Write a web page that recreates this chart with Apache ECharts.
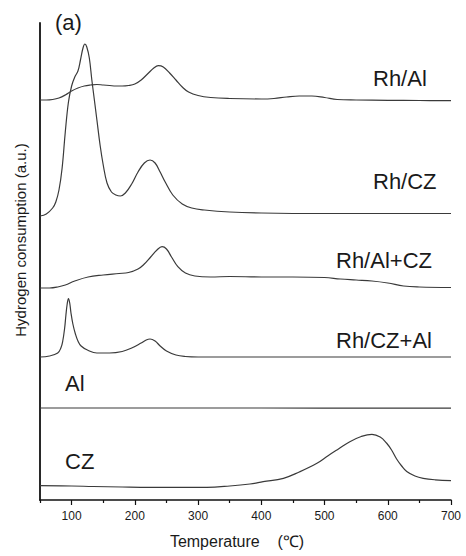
<!DOCTYPE html>
<html><head><meta charset="utf-8">
<script src="https://cdn.jsdelivr.net/npm/echarts@6/dist/echarts.min.js"></script>
<style>html,body{margin:0;padding:0;background:#fff}#c{width:466px;height:556px}</style>
</head><body><div id="c"></div>
<script>
// Tick values
const xTickLabels = [100, 200, 300, 400, 500, 600, 700];
const xMinorTicks = [50, 150, 250, 350, 450, 550, 650];
const seriesNames = ['Rh/Al', 'Rh/CZ', 'Rh/Al+CZ', 'Rh/CZ+Al', 'Al', 'CZ'];
const xTitle = 'Temperature    (\u2103)';
const yTitle = 'Hydrogen consumption (a.u.)';
const panelTag = '(a)';

// [temperature (°C), H2 signal (a.u., vertically offset traces)]
const rhAl = [[50,400],[60,400],[70,400.5],[80,402],[90,405],[100,409],[110,412],[120,414],[130,415],[140,415.5],[150,415],[160,414.5],[170,414],[180,414],[190,414.5],[200,416],[210,420],[220,426],[230,432],[237,434.3],[245,433],[255,427],[265,420],[275,413],[285,408],[300,404.5],[320,402.5],[350,401.5],[400,401],[420,401.5],[440,403],[460,404],[480,404],[500,402.5],[520,400.5],[550,400],[600,399.7],[650,399.5],[700,399.3]];
const rhCZ = [[50,284],[60,286],[70,292],[75,298],[80,310],[85,332],[90,368],[95,398],[100,414],[105,423],[110,429],[114,440],[118,452],[121,456],[124,453],[128,442],[132,420],[136,400],[140,380],[145,355],[150,335],[156,317],[163,308],[170,305],[177,304],[185,307],[195,316],[205,328],[215,337],[224,340],[232,337],[240,328],[248,318],[260,305],[275,296],[290,292],[310,290],[350,288],[400,287],[500,286.5],[600,286.5],[700,286.5]];
const rhAlCZ = [[50,212],[65,212],[78,213],[90,215],[105,219],[126,223],[150,225],[175,226.5],[190,227.5],[205,231],[215,236],[225,243],[235,250],[243,253.3],[250,251],[258,243],[268,233.3],[280,227],[295,224],[320,223],[350,223.5],[400,223],[450,223],[500,222.5],[525,221],[550,220],[575,219],[600,217],[625,214],[650,213],[700,212.5]];
const rhCZAl = [[50,143],[65,144],[78,147],[83,152],[86,159],[89,172],[91,185],[93,196],[95,201.5],[97,197],[99,187],[102,176],[106,166],[110,159],[115,154],[125,150],[140,147],[160,147],[180,148.5],[195,152],[210,157],[218,160],[224,161],[232,159],[240,154],[250,149],[265,145],[280,143.5],[300,143],[400,143],[500,143],[600,143],[700,143]];
const al = [[50,92],[200,92],[400,92],[700,91.8]];
const cz = [[50,14.3],[100,14],[134,13.5],[180,13],[224,12.7],[314,12.7],[350,14],[382,16],[403,18.3],[435,21.7],[460,28],[488,36.7],[505,44],[522,51],[540,58.3],[558,63.5],[575,65.7],[588,63],[598,57],[606,50],[614,41],[622,34],[630,28.5],[643,24],[656,21.7],[675,20.2],[700,19.3]];
const allData = [rhAl, rhCZ, rhAlCZ, rhCZAl, al, cz];

const chart = echarts.init(document.getElementById('c'), null, {renderer: 'svg'});
const font = 'Liberation Sans, Arial, sans-serif';
const txt = (text, x, y, size, extra) => Object.assign({
  type: 'text', x: x, y: y, silent: true,
  style: {text: text, fill: '#1a1a1a', font: size + 'px ' + font, align: 'left', verticalAlign: 'middle'}
}, extra || {});

chart.setOption({
  animation: false,
  backgroundColor: '#fff',
  grid: {left: 40, right: 15, top: 23, bottom: 56},
  xAxis: [{
    type: 'value', min: 50, max: 700,
    splitLine: {show: false},
    axisLine: {lineStyle: {color: '#111', width: 1.5}},
    axisTick: {show: true, inside: false, length: 5, lineStyle: {color: '#111', width: 1.2}, customValues: xTickLabels},
    axisLabel: {customValues: xTickLabels, color: '#1a1a1a', fontSize: 12, fontFamily: font, margin: 10},
    name: xTitle, nameLocation: 'middle', nameGap: 33,
    nameTextStyle: {color: '#1a1a1a', fontSize: 16, fontFamily: font, padding: [0, 17, 0, 0]}
  }, {
    type: 'value', min: 50, max: 700, position: 'bottom',
    splitLine: {show: false},
    axisLine: {show: false},
    axisTick: {show: true, length: 3, lineStyle: {color: '#111', width: 1.2}, customValues: xMinorTicks},
    axisLabel: {show: false}
  }],
  yAxis: {
    type: 'value', min: 0, max: 477,
    splitLine: {show: false},
    axisLine: {show: true, lineStyle: {color: '#111', width: 1.8}},
    axisTick: {show: false},
    axisLabel: {show: false}
  },
  series: allData.map((d, i) => ({
    name: seriesNames[i], type: 'line', data: d, xAxisIndex: 0,
    showSymbol: false, smooth: 0.4,
    lineStyle: {color: '#3a3a3a', width: 1.2}
  })),
  graphic: [
    txt(panelTag, 55, 22.5, 22),
    txt(seriesNames[0], 373, 78.5, 22),
    txt(seriesNames[1], 373, 181.5, 22),
    txt(seriesNames[2], 336, 260.5, 22),
    txt(seriesNames[3], 336, 340, 22),
    txt(seriesNames[4], 65, 383, 22),
    txt(seriesNames[5], 65, 461, 22),
    txt(yTitle, 20, 240, 15, {rotation: Math.PI / 2, style: {text: yTitle, fill: '#1a1a1a', font: '15px ' + font, align: 'center', verticalAlign: 'middle'}})
  ]
});
</script></body></html>
